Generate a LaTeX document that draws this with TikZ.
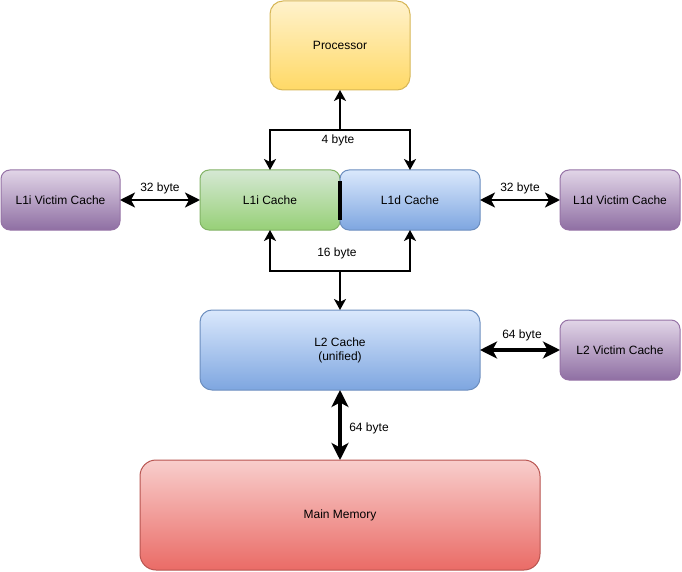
\documentclass[tikz,border=0pt]{standalone}
\usepackage{fontspec}
\setmainfont{Liberation Sans}
\usetikzlibrary{arrows.meta,calc}
\definecolor{yTop}{HTML}{FFF2CC}\definecolor{yBot}{HTML}{FFD966}\definecolor{yBd}{HTML}{D6B656}
\definecolor{gTop}{HTML}{D5E8D4}\definecolor{gBot}{HTML}{97D077}\definecolor{gBd}{HTML}{82B366}
\definecolor{bTop}{HTML}{DAE8FC}\definecolor{bBot}{HTML}{7EA6E0}\definecolor{bBd}{HTML}{6C8EBF}
\definecolor{pTop}{HTML}{E1D5E7}\definecolor{pBot}{HTML}{8F6FA3}\definecolor{pBd}{HTML}{9673A6}
\definecolor{rTop}{HTML}{F8CECC}\definecolor{rBot}{HTML}{EA6B66}\definecolor{rBd}{HTML}{B85450}
\begin{document}
\begin{tikzpicture}[x=1pt,y=-1pt,
  txt/.style={font=\fontsize{12}{14}\selectfont},
  box/.style={draw, line width=1pt, align=center, txt, inner sep=0pt, outer sep=0pt},
  yel/.style={top color=yTop, bottom color=yBot, draw=yBd},
  grn/.style={top color=gTop, bottom color=gBot, draw=gBd},
  blu/.style={top color=bTop, bottom color=bBot, draw=bBd},
  pur/.style={top color=pTop, bottom color=pBot, draw=pBd},
  red/.style={top color=rTop, bottom color=rBot, draw=rBd},
  smallbox/.style={minimum width=140pt, minimum height=60pt, rounded corners=9pt},
  vicbox/.style={minimum width=120pt, minimum height=60pt, rounded corners=9pt},
  wsmall/.style={line width=2.2pt, -{Stealth[length=11pt,width=12pt,inset=3pt]}},
  wmid/.style={line width=2.6pt, {Stealth[length=15pt,width=15pt,inset=4pt]}-{Stealth[length=15pt,width=15pt,inset=4pt]}},
  wbig/.style={line width=3.6pt, {Stealth[length=17pt,width=17pt,inset=4.5pt]}-{Stealth[length=17pt,width=17pt,inset=4.5pt]}},
  lbl/.style={txt, inner sep=0pt}
]
\useasboundingbox (0,0) rectangle (682,572);

\node[box,yel,minimum width=140pt,minimum height=89pt,rounded corners=13pt] (proc) at (340,45.5) {Processor};
\node[box,grn,smallbox] (l1i) at (270,200) {L1i Cache};
\node[box,blu,smallbox] (l1d) at (410,200) {L1d Cache};
\node[box,pur,vicbox,minimum width=119pt] (l1iv) at (60.5,200) {L1i Victim Cache};
\node[box,pur,vicbox] (l1dv) at (620,200) {L1d Victim Cache};
\node[box,blu,minimum width=280pt,minimum height=80pt,rounded corners=12pt] (l2) at (340,350) {L2 Cache\\(unified)};
\node[box,pur,vicbox] (l2v) at (620,350) {L2 Victim Cache};
\node[box,red,minimum width=400pt,minimum height=110pt,rounded corners=16pt] (mem) at (340,515) {Main Memory};

\draw[line width=4pt] ($(l1i.east)+(0,-19)$) -- ($(l1i.east)+(0,20)$);

\coordinate (jt) at (340,130);
\draw[wsmall] (jt) -- (proc.south);
\draw[wsmall] (jt) -| (l1i.north);
\draw[wsmall] (jt) -| (l1d.north);
\node[lbl] (t4) at (338,140) {4 byte};

\coordinate (jb) at (340,271);
\draw[wsmall] (jb) -| (l1i.south);
\draw[wsmall] (jb) -| (l1d.south);
\draw[wsmall] (jb) -- (l2.north);
\node[lbl] (t16) at (337,253) {16 byte};

\draw[wmid] (l1iv.east) -- (l1i.west);
\node[lbl] (t32a) at (160,188) {32 byte};
\draw[wmid] (l1d.east) -- (l1dv.west);
\node[lbl] (t32b) at (520,188) {32 byte};

\draw[wbig] (l2.east) -- (l2v.west);
\node[lbl] (t64a) at (522,335) {64 byte};
\draw[wbig] (l2.south) -- (mem.north);
\node[lbl] (t64b) at (369,428) {64 byte};
\end{tikzpicture}
\end{document}
